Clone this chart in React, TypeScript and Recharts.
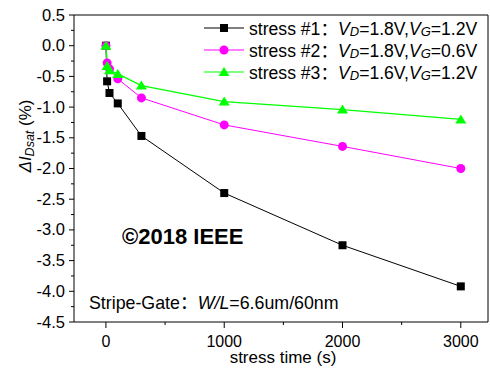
import { LineChart, Line, XAxis, YAxis, ReferenceLine } from "recharts";

// stress time in seconds
const times = [0, 10, 30, 100, 300, 1000, 2000, 3000];
// ΔIDsat (%) per stress condition
const stress1 = [0, -0.58, -0.77, -0.94, -1.47, -2.4, -3.25, -3.92];
const stress2 = [0, -0.28, -0.38, -0.54, -0.85, -1.29, -1.64, -2.0];
const stress3 = [0, -0.33, -0.4, -0.46, -0.65, -0.91, -1.04, -1.2];

const seriesNames = ["stress #1：", "stress #2：", "stress #3："];
const seriesVD = ["1.8V", "1.8V", "1.6V"];
const seriesVG = ["1.2V", "0.6V", "1.2V"];
const seriesColors = ["#000000", "#ff00ff", "#00ff00"];
const seriesKeys = ["s1", "s2", "s3"];
const seriesMarkers = ["square", "circle", "triangle"];

const xDomain = [-270, 3230];
const yDomain = [-4.5, 0.5];
const xMajorTicks = [0, 1000, 2000, 3000];
const xAllTicks = [0, 500, 1000, 1500, 2000, 2500, 3000];
const yMajorTicks = [-4.5, -4, -3.5, -3, -2.5, -2, -1.5, -1, -0.5, 0, 0.5];
const yAllTicks = [-4.5, -4.25, -4, -3.75, -3.5, -3.25, -3, -2.75, -2.5, -2.25, -2, -1.75, -1.5, -1.25, -1, -0.75, -0.5, -0.25, 0, 0.25, 0.5];

const data = times.map((t, i) => ({ t, s1: stress1[i], s2: stress2[i], s3: stress3[i] }));

const FONT = "'Liberation Sans', Arial, 'Noto Sans CJK SC', sans-serif";

function Marker({ kind, cx, cy, color }: { kind: string; cx: number; cy: number; color: string }) {
  if (kind === "square") return <rect x={cx - 4} y={cy - 4} width={8} height={8} fill={color} />;
  if (kind === "circle") return <circle cx={cx} cy={cy} r={4.5} fill={color} />;
  return <polygon points={`${cx},${cy - 5} ${cx + 5.5},${cy + 4} ${cx - 5.5},${cy + 4}`} fill={color} />;
}

const makeDot = (kind: string, color: string) => (props: any) => {
  const { cx, cy, index } = props;
  if (cx == null || cy == null) return <g key={index} />;
  return <Marker key={index} kind={kind} cx={cx} cy={cy} color={color} />;
};

const YTick = (props: any) => {
  const { x, y, payload } = props;
  const major = yMajorTicks.includes(payload.value);
  return (
    <g>
      <line x1={x - (major ? 5 : 3)} x2={x} y1={y} y2={y} stroke="#000" />
      {major && (
        <text x={x - 9} y={y + 5.5} textAnchor="end" fontSize={16.5} fill="#000">
          {Number(payload.value).toFixed(1)}
        </text>
      )}
    </g>
  );
};

const XTick = (props: any) => {
  const { x, y, payload } = props;
  const major = xMajorTicks.includes(payload.value);
  return (
    <g>
      <line x1={x} x2={x} y1={y} y2={y + (major ? 6 : 3)} stroke="#000" />
      {major && (
        <text x={x} y={y + 25} textAnchor="middle" fontSize={16} fill="#000">
          {payload.value}
        </text>
      )}
    </g>
  );
};

const YTitle = () => (
  <text x={31} y={136} transform="rotate(-90 31 136)" textAnchor="middle" fontSize={17} fill="#000">
    <tspan fontStyle="italic">ΔI</tspan>
    <tspan fontStyle="italic" fontSize={12.5} dy={3}>Dsat</tspan>
    <tspan dy={-3}> (%)</tspan>
  </text>
);

const XTitle = () => (
  <text x={283} y={363} textAnchor="middle" fontSize={17} fill="#000">
    stress time (s)
  </text>
);

const subStyle = { fontSize: 13, position: "relative" as const, top: 1 };

export default function App() {
  return (
    <div style={{ position: "absolute", left: 0, top: 0, width: 490, height: 371, background: "#fff", fontFamily: FONT }}>
      <LineChart
        width={490}
        height={371}
        data={data}
        margin={{ top: 15, right: 2, bottom: 0, left: 0 }}
        style={{ fontFamily: FONT }}
      >
        <XAxis
          dataKey="t"
          type="number"
          domain={xDomain}
          ticks={xAllTicks}
          interval={0}
          tick={<XTick />}
          tickLine={false}
          tickSize={0}
          tickMargin={0}
          height={49}
          axisLine={{ stroke: "#000", strokeWidth: 1 }}
          allowDataOverflow
          label={{ content: XTitle }}
        />
        <YAxis
          type="number"
          domain={yDomain}
          ticks={yAllTicks}
          interval={0}
          tick={<YTick />}
          tickLine={false}
          tickSize={0}
          tickMargin={0}
          width={74}
          axisLine={{ stroke: "#000", strokeWidth: 1 }}
          allowDataOverflow
          label={{ content: YTitle }}
        />
        <ReferenceLine y={yDomain[1]} stroke="#000" strokeWidth={1} />
        <ReferenceLine x={xDomain[1]} stroke="#000" strokeWidth={1} />
        {seriesKeys.map((k, i) => (
          <Line
            key={k}
            dataKey={k}
            type="linear"
            stroke={seriesColors[i]}
            strokeWidth={i === 2 ? 1.3 : 1}
            dot={makeDot(seriesMarkers[i], seriesColors[i])}
            activeDot={false}
            isAnimationActive={false}
          />
        ))}
      </LineChart>
      <div style={{ position: "absolute", left: 204, top: 16.5, fontSize: 17.6, color: "#000" }}>
        {seriesKeys.map((k, i) => (
          <div key={k} style={{ display: "flex", alignItems: "center", height: 22, whiteSpace: "nowrap" }}>
            <svg width={40} height={22} style={{ display: "block" }}>
              <line x1={0} x2={40} y1={11} y2={11} stroke={seriesColors[i]} strokeWidth={1.2} />
              <Marker kind={seriesMarkers[i]} cx={20} cy={11} color={seriesColors[i]} />
            </svg>
            <span style={{ marginLeft: 5 }}>
              {seriesNames[i]}
              <i>V<span style={subStyle}>D</span></i>={seriesVD[i]},
              <i>V<span style={subStyle}>G</span></i>={seriesVG[i]}
            </span>
          </div>
        ))}
      </div>
      <div
        style={{ position: "absolute", left: 122, top: 226, fontSize: 22, lineHeight: "22px", fontWeight: "bold", color: "#000", whiteSpace: "nowrap" }}
      >
        ©2018 IEEE
      </div>
      <div
        style={{ position: "absolute", left: 89, top: 293, fontSize: 17.8, lineHeight: "20px", color: "#000", whiteSpace: "nowrap" }}
      >
        Stripe-Gate：<i>W/L</i>=6.6um/60nm
      </div>
    </div>
  );
}
